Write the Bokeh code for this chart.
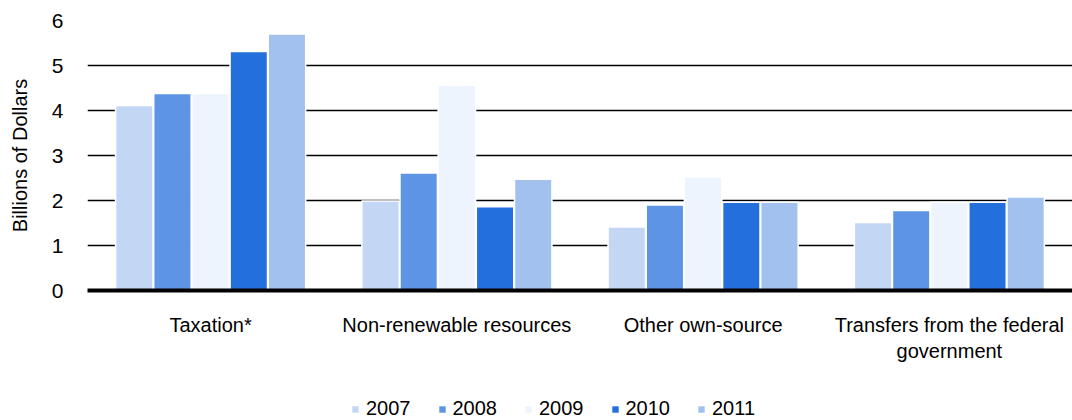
from bokeh.plotting import figure
from bokeh.layouts import column
from bokeh.models import FactorRange, Range1d, Legend, LegendItem, ColumnDataSource
from bokeh.transform import dodge
from bokeh.embed import file_html
from bokeh.resources import INLINE

categories = ["Taxation*", "Non-renewable resources", "Other own-source",
              "Transfers from the federal\ngovernment"]
years = ["2007", "2008", "2009", "2010", "2011"]
v2007 = [4.11, 1.99, 1.41, 1.51]
v2008 = [4.38, 2.61, 1.90, 1.78]
v2009 = [4.38, 4.56, 2.52, 1.96]
v2010 = [5.31, 1.86, 1.96, 1.96]
v2011 = [5.70, 2.47, 1.96, 2.08]
colors = ["#C3D7F5", "#5E94E4", "#EEF4FD", "#236FDB", "#A2C1EE"]

series = [v2007, v2008, v2009, v2010, v2011]
src = ColumnDataSource(dict(cat=categories, **{y: s for y, s in zip(years, series)}))

FONT = "Liberation Sans"
p = figure(x_range=FactorRange(factors=categories, range_padding=0),
           y_range=Range1d(0, 6), width=1072, height=375,
           output_backend="svg", toolbar_location=None,
           min_border_left=87, min_border_right=0, min_border_top=20, min_border_bottom=85)
p.outline_line_color = None

bw = 0.152
for i, (y, c) in enumerate(zip(years, colors)):
    p.vbar(x=dodge("cat", (i - 2) * 0.155, range=p.x_range), top=y, width=bw,
           source=src, fill_color=c, line_color="white", line_width=1.5)

p.xgrid.grid_line_color = None
p.ygrid.grid_line_color = "#000000"
p.ygrid.grid_line_width = 1.5

p.yaxis.axis_line_color = None
p.yaxis.major_tick_line_color = None
p.yaxis.minor_tick_line_color = None
p.yaxis.major_tick_out = 0
p.yaxis.major_tick_in = 0
p.yaxis.major_label_text_font = FONT
p.yaxis.major_label_text_font_size = "21px"
p.yaxis.major_label_text_color = "#000000"
p.yaxis.major_label_standoff = 24
p.yaxis.axis_label = "Billions of Dollars"
p.yaxis.axis_label_text_font = FONT
p.yaxis.axis_label_text_font_size = "20px"
p.yaxis.axis_label_text_font_style = "normal"
p.yaxis.axis_label_text_color = "#000000"
p.yaxis.axis_label_standoff = 18
p.yaxis.ticker = [0, 1, 2, 3, 4, 5, 6]

p.xaxis.axis_line_color = "#000000"
p.xaxis.axis_line_width = 4
p.xaxis.major_tick_line_color = None
p.xaxis.minor_tick_line_color = None
p.xaxis.major_tick_out = 0
p.xaxis.major_tick_in = 0
p.xaxis.major_label_text_font = FONT
p.xaxis.major_label_text_font_size = "20px"
p.xaxis.major_label_text_color = "#000000"
p.xaxis.major_label_standoff = 23

# legend strip below the chart (swatch renderers sit outside the strip's visible range)
lf = figure(width=1072, height=45, x_range=Range1d(0, 1), y_range=Range1d(0, 1),
            output_backend="svg", toolbar_location=None,
            x_axis_location=None, y_axis_location=None,
            min_border_left=0, min_border_right=0, min_border_top=0, min_border_bottom=0)
lf.outline_line_color = None
lf.grid.visible = False
items = []
for y, c in zip(years, colors):
    r = lf.vbar(x=[5], top=[5], bottom=[4], width=0.1, fill_color=c, line_color=None)
    items.append(LegendItem(label=y, renderers=[r]))
legend = Legend(items=items, orientation="horizontal", location=(264, 0),
                glyph_width=8, glyph_height=8, label_standoff=7, spacing=27,
                label_text_font=FONT, label_text_font_size="20px",
                label_text_color="#000000", border_line_color=None,
                background_fill_alpha=0, margin=0, padding=0)
lf.add_layout(legend, "center")

layout = column(p, lf, spacing=0)
open("out.html", "w").write(file_html(layout, INLINE))
